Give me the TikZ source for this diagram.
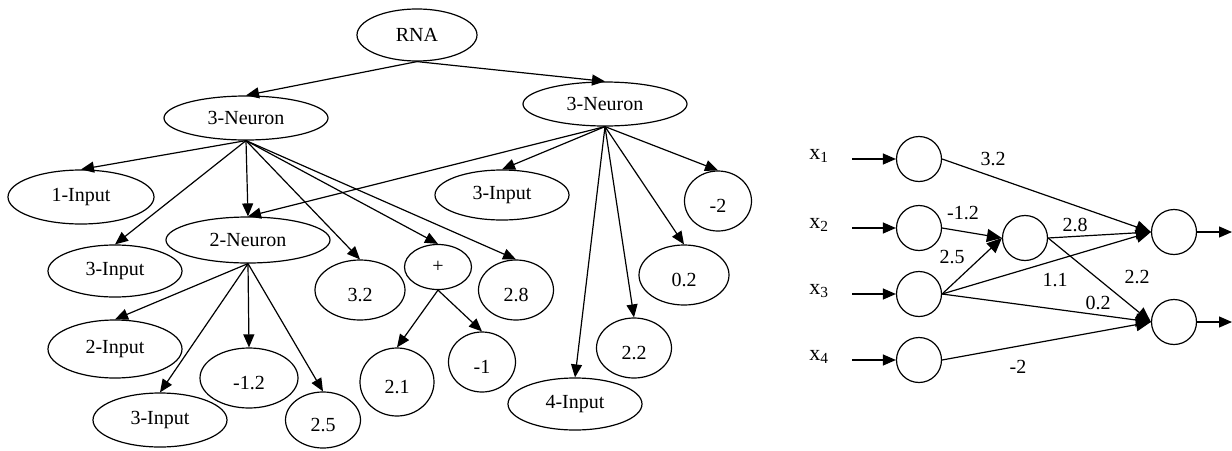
\documentclass[tikz,border=0pt]{standalone}
\usepackage{fontspec}
\setmainfont{Liberation Serif}
\usetikzlibrary{shapes.geometric,arrows.meta}
\begin{document}
\begin{tikzpicture}[x=1pt,y=-1pt,>={Triangle[length=13pt,width=11pt]},line width=1.2pt,
    font=\fontsize{20}{22}\selectfont,
    ell/.style 2 args={draw,ellipse,inner sep=0pt,minimum width=#1pt,minimum height=#2pt},
    num/.style 2 args={ell={#1}{#2},text height=23.5pt,text depth=0pt},
    neu/.style={draw,circle,inner sep=0pt,minimum size=45pt},
    wt/.style={inner sep=0pt}]
  \useasboundingbox (0,0) rectangle (1232,450);
  % tree
  \node[ell={120}{52}] (rna) at (417,35) {RNA};
  \node[ell={164}{44}] (n3a) at (246,118) {3-Neuron};
  \node[ell={164}{44}] (n3b) at (605,104) {3-Neuron};
  \node[ell={146}{54}] (in1) at (81,197) {1-Input};
  \node[ell={134}{52}] (in3a) at (115,271) {3-Input};
  \node[ell={164}{46}] (n2) at (248,240) {2-Neuron};
  \node[num={90}{60}] (c32) at (360,290) {3.2};
  \node[ell={67}{45}] (plus) at (438,267) {+};
  \node[num={75}{60}] (c28) at (516,290) {2.8};
  \node[ell={134}{50}] (in3r) at (502,195) {3-Input};
  \node[num={67}{60}] (cm2) at (718,201) {-2};
  \node[num={90}{60}] (c02) at (684,275) {0.2};
  \node[num={75}{60}] (c22) at (634,348) {2.2};
  \node[ell={134}{52}] (in4) at (575,404) {4-Input};
  \node[ell={134}{58}] (in2) at (115,349) {2-Input};
  \node[ell={134}{54}] (in3b) at (160,420) {3-Input};
  \node[num={98}{60}] (cm12) at (249,378) {-1.2};
  \node[num={75}{56}] (c25) at (323,420) {2.5};
  \node[num={74}{68}] (c21) at (397,382) {2.1};
  \node[num={67}{60}] (cm1) at (482,362) {-1};
  \foreach \a/\b in {rna/n3a,rna/n3b,n3a/in1,n3a/in3a,n3a/n2,n3a/c32,n3a/plus,n3a/c28,
      n3b/n2,n3b/in3r,n3b/in4,n3b/c22,n3b/c02,n3b/cm2,n2/in2,n2/in3b,n2/cm12,n2/c25,
      plus/c21,plus/cm1}
    \draw[->] (\a.south) -- (\b.north);
  % network
  \foreach \i/\y in {1/159,2/228,3/294,4/360}{
    \node[neu] (i\i) at (919,\y) {};
    \node[wt,font=\fontsize{22}{24}\selectfont] (x\i) at (819,\y-3) {x\textsubscript{\i}};
    \coordinate (s\i) at (852,\y);
    \draw[->] (s\i) -- (i\i);
  }
  \node[neu] (h) at (1025,238) {};
  \node[neu] (o1) at (1174,232) {};
  \node[neu] (o2) at (1174,322) {};
  \coordinate (t1) at (1232,232);
  \coordinate (t2) at (1232,322);
  \foreach \a/\b in {i1/o1,i2/h,i3/h,h/o1,i3/o1,h/o2,i3/o2,i4/o2}
    \draw[->,>={Triangle[length=15pt,width=13pt]}] (\a.east) -- (\b.west);
  \draw[->] (o1) -- (t1);
  \draw[->] (o2) -- (t2);
  \node[wt] (w1) at (993,159) {3.2};
  \node[wt] (w2) at (963,213) {-1.2};
  \node[wt] (w3) at (952,257) {2.5};
  \node[wt] (w4) at (1075,225) {2.8};
  \node[wt] (w5) at (1055,280) {1.1};
  \node[wt] (w6) at (1137,277) {2.2};
  \node[wt] (w7) at (1098,303) {0.2};
  \node[wt] (w8) at (1018,367) {-2};
\end{tikzpicture}
\end{document}
